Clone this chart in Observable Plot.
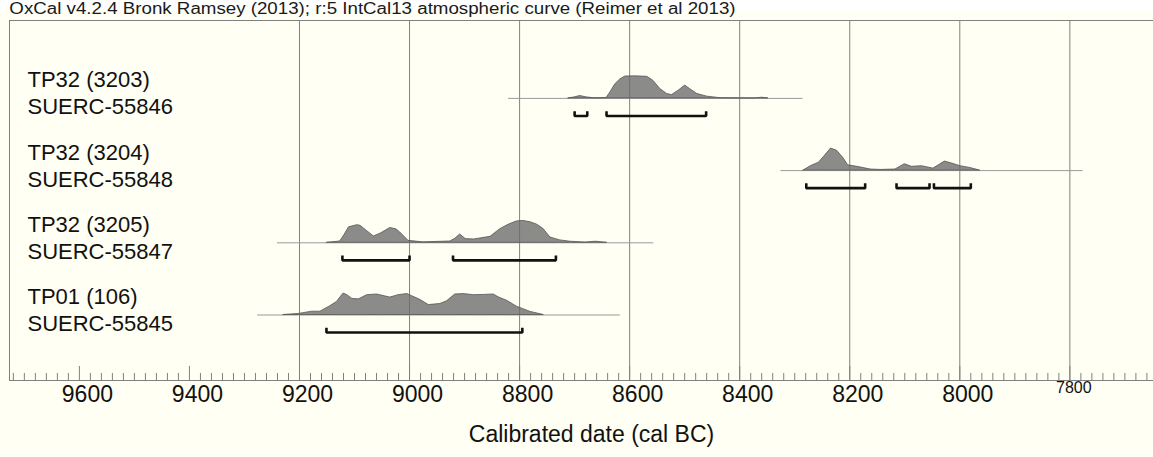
<!DOCTYPE html>
<html><head><meta charset="utf-8">
<script src="https://cdn.jsdelivr.net/npm/d3@7"></script>
<script src="https://cdn.jsdelivr.net/npm/@observablehq/plot@0.6"></script>
<style>
html,body{margin:0;padding:0;background:#fffff3;}
#titlebox{height:19px;background:linear-gradient(#ffffff 0px, #ffffff 10px, #fffff3 11px);overflow:visible;}
#title{font-family:"Liberation Sans",Arial,sans-serif;font-size:16px;color:#1a1a1a;line-height:18px;padding-left:8px;white-space:nowrap;transform:scaleX(1.17);transform-origin:0 0;display:inline-block;}
</style></head><body>
<div id="titlebox"><div id="title">OxCal v4.2.4 Bronk Ramsey (2013); r:5 IntCal13 atmospheric curve (Reimer et al 2013)</div></div>
<div id="chart"></div>
<script>
// ---- data ----
const sampleNames = ["TP32 (3203)", "TP32 (3204)", "TP32 (3205)", "TP01 (106)"];
const labIds = ["SUERC-55846", "SUERC-55848", "SUERC-55847", "SUERC-55845"];
const plotSpans = [[8820, 8285], [8325, 7776], [9240, 8556], [9276, 8617]];

const years1 = [8711, 8699, 8690, 8679, 8666, 8653, 8642, 8635, 8626, 8617, 8608, 8590, 8568, 8557, 8544, 8532, 8523, 8511, 8499, 8490, 8477, 8459, 8435, 8399, 8372, 8359, 8348];
const prob1  = [0, 5, 11, 5, 1, 1, 2, 27, 64, 86, 99, 100, 98, 80, 42, 20, 15, 35, 58, 42, 20, 8, 1, 0, 0, 3, 0];

const years2 = [8284, 8271, 8256, 8247, 8234, 8223, 8211, 8203, 8186, 8162, 8144, 8117, 8100, 8087, 8069, 8048, 8027, 8014, 7999, 7981, 7963];
const prob2  = [0, 20, 36, 62, 100, 90, 55, 24, 17, 5, 3, 5, 29, 17, 20, 9, 41, 32, 20, 12, 0];

const years3 = [9150, 9126, 9118, 9110, 9095, 9089, 9078, 9065, 9053, 9035, 9024, 9017, 9002, 8975, 8926, 8917, 8908, 8898, 8883, 8853, 8835, 8820, 8805, 8793, 8780, 8768, 8757, 8744, 8726, 8708, 8680, 8662, 8641];
const prob3  = [0, 6, 36, 70, 80, 77, 55, 29, 41, 67, 61, 47, 9, 2, 6, 18, 38, 17, 15, 27, 62, 82, 97, 99, 93, 82, 64, 24, 11, 5, 1, 5, 0];

const years4 = [9229, 9201, 9177, 9162, 9144, 9132, 9120, 9113, 9104, 9092, 9077, 9059, 9035, 9020, 9004, 8995, 8980, 8965, 8944, 8932, 8917, 8902, 8883, 8865, 8847, 8838, 8823, 8805, 8780, 8756];
const prob4  = [0, 5, 15, 15, 40, 59, 97, 90, 73, 71, 90, 93, 79, 90, 95, 85, 68, 45, 50, 62, 93, 95, 90, 91, 93, 80, 65, 38, 14, 0];

const ranges1 = [[8700, 8677], [8642, 8461]];
const ranges2 = [[8279, 8172], [8115, 8055], [8047, 7980]];
const ranges3 = [[9122, 9000], [8921, 8734]];
const ranges4 = [[9151, 8795]];

const gridYears = [9200, 9000, 8800, 8600, 8400, 8200, 8000, 7800];
const tickLabels = [9600, 9400, 9200, 9000, 8800, 8600, 8400, 8200, 8000];
const smallTickLabels = [7800];
const axisTitle = "Calibrated date (cal BC)";

// ---- build tables ----
const yearsAll = [years1, years2, years3, years4];
const probAll = [prob1, prob2, prob3, prob4];
const rangesAll = [ranges1, ranges2, ranges3, ranges4];
const nRows = sampleNames.length;
const rowY = r => (nRows - 1) - r;          // row baseline in row units
const PX = 1 / 72;                           // one pixel in row units
const K = 22 * PX / 100;                     // 100% probability height

const rows = sampleNames.map((name, r) => ({row: r, name, lab: labIds[r], x1: plotSpans[r][0], x2: plotSpans[r][1]}));
const dens = yearsAll.flatMap((ys, r) => ys.map((year, i) => ({row: r, year, p: probAll[r][i]})));
const brackets = rangesAll.flatMap((rs, r) => rs.flatMap(([a, b], j) => {
  const base = rowY(r) - 17.5 * PX, up = base + 3.5 * PX, id = r + "-" + j;
  return [{id, x: a, y: up}, {id, x: a, y: base}, {id, x: b, y: base}, {id, x: b, y: up}];
}));

const xDomain = [9727, 7648];
const yBottom = -0.907, yTop = 4.079;
const minorTicks = d3.range(7660, 9727, 20).filter(d => d % 200 !== 0);
const majorTicks = d3.range(7800, 9727, 200);

const font = "'Liberation Sans', Arial, sans-serif";
const gridColor = "#808080";

const chart = Plot.plot({
  width: 1153,
  height: 437,
  marginLeft: 9, marginRight: 0, marginTop: 1, marginBottom: 76,
  x: {domain: xDomain, axis: null},
  y: {domain: [yBottom, yTop], axis: null},
  style: {fontFamily: font, background: "#fffff3", overflow: "visible"},
  marks: [
    Plot.ruleX(gridYears, {x: d => d, stroke: gridColor, strokeWidth: 1}),
    Plot.ruleY(rows, {y: d => rowY(d.row), x1: "x1", x2: "x2", stroke: "#9a9a9a", strokeWidth: 1}),
    Plot.areaY(dens, {x: "year", y1: d => rowY(d.row), y2: d => rowY(d.row) + d.p * K, z: "row",
      fill: "#6a6a6a", fillOpacity: 0.78, stroke: "#555", strokeWidth: 0.8, curve: "linear"}),
    Plot.line(brackets, {x: "x", y: "y", z: "id", stroke: "#111", strokeWidth: 2.6, strokeLinejoin: "miter", strokeLinecap: "square"}),
    Plot.ruleY([yTop], {stroke: gridColor}),
    Plot.ruleX([xDomain[0]], {stroke: gridColor}),
    Plot.ruleY([yBottom], {stroke: gridColor}),
    Plot.ruleX(minorTicks, {x: d => d, y1: yBottom, y2: yBottom + 7 * PX, stroke: gridColor}),
    Plot.ruleX(majorTicks, {x: d => d, y1: yBottom, y2: yBottom + 14 * PX, stroke: gridColor}),
    Plot.text(rows, {y: d => rowY(d.row), text: "name", frameAnchor: "left", textAnchor: "start", dx: 18, dy: -18, fontSize: 22, fill: "#111"}),
    Plot.text(rows, {y: d => rowY(d.row), text: "lab", frameAnchor: "left", textAnchor: "start", dx: 18, dy: 9, fontSize: 22, fill: "#111"}),
    Plot.text(tickLabels, {x: d => d, text: d => String(d), frameAnchor: "bottom", dy: 21, dx: 8, fontSize: 23, fill: "#111"}),
    Plot.text(smallTickLabels, {x: d => d, text: d => String(d), frameAnchor: "bottom", dy: 12, dx: 4, fontSize: 16, fill: "#111"}),
    Plot.text([axisTitle], {text: d => d, frameAnchor: "bottom", dx: 10, dy: 61, fontSize: 23, fill: "#111"})
  ]
});
document.getElementById("chart").appendChild(chart);
</script>
</body></html>
